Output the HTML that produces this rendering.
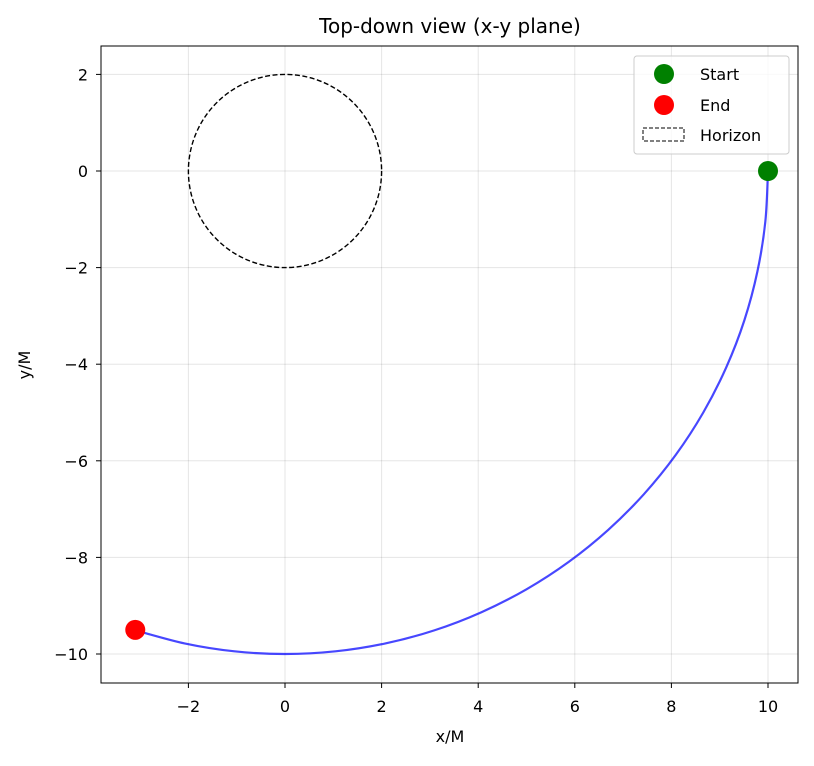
<!DOCTYPE html>
<html><head><meta charset="utf-8"><style>
body{margin:0;background:#fff;}
svg text{font-family:"DejaVu Sans","Liberation Sans",sans-serif;fill:#000;}
</style></head><body>
<svg id="chart" width="814" height="761" viewBox="0 0 814 761" xmlns="http://www.w3.org/2000/svg">
<rect width="814" height="761" fill="#fff"/>
<g id="grid"></g>
<g id="plot"></g>
<rect x="101" y="46" width="697" height="637" fill="none" stroke="#000" stroke-width="1"/>
<g id="ticks"></g>
<text x="450" y="33" font-size="20" text-anchor="middle">Top-down view (x-y plane)</text>
<text x="450" y="742" font-size="16" text-anchor="middle">x/M</text>
<text x="30" y="365" font-size="16" text-anchor="middle" transform="rotate(-90 30 365)">y/M</text>
<g>
<rect x="634" y="56" width="155" height="98" rx="3" fill="#fff" fill-opacity="0.8" stroke="#ccc"/>
<circle cx="664" cy="74" r="10" fill="green"/>
<text x="700" y="80" font-size="16">Start</text>
<circle cx="664" cy="105" r="10" fill="red"/>
<text x="700" y="111" font-size="16">End</text>
<rect x="643" y="128" width="41" height="13" fill="none" stroke="#000" stroke-dasharray="4,2"/>
<text x="700" y="141" font-size="16">Horizon</text>
</g>
</svg>
<script>
const trajX=[10,9.945,9.781,9.511,9.135,8.660,8.090,7.431,6.691,5.878,5.000,4.067,3.090,2.079,1.045,0,-1.045,-2.079,-3.090];
const trajY=[0,-1.045,-2.079,-3.090,-4.067,-5.000,-5.878,-6.691,-7.431,-8.090,-8.660,-9.135,-9.511,-9.781,-9.945,-10,-9.945,-9.781,-9.511];
const startPt=[10,0];
const endPt=[-3.1,-9.5];
const horizonR=2;
const xTicks=[-2,0,2,4,6,8,10];
const yTicks=[2,0,-2,-4,-6,-8,-10];
const X0=285,Y0=171,S=48.3;
function sx(v){return X0+v*S;}
function sy(v){return Y0-v*S;}
const NS="http://www.w3.org/2000/svg";
function mk(tag,attrs,parent){const e=document.createElementNS(NS,tag);for(const k in attrs)e.setAttribute(k,attrs[k]);document.getElementById(parent).appendChild(e);return e;}
xTicks.forEach(t=>{
  const g=mk('line',{x1:sx(t),x2:sx(t),y1:46,y2:683,stroke:'#000','stroke-opacity':0.1},'grid');
  
  
  const tk=mk('line',{x1:sx(t),x2:sx(t),y1:683,y2:688,stroke:'#000'},'ticks');
  
  
  const tx=mk('text',{x:sx(t),y:712,'font-size':16,'text-anchor':'middle'},'ticks');
  tx.textContent=(t<0?'\u2212'+(-t):t);
  
  
});
yTicks.forEach(t=>{
  const g=mk('line',{x1:101,x2:798,y1:sy(t),y2:sy(t),stroke:'#000','stroke-opacity':0.1},'grid');
  
  
  const tk=mk('line',{x1:96,x2:101,y1:sy(t),y2:sy(t),stroke:'#000'},'ticks');
  
  
  const tx=mk('text',{x:88,y:sy(t)+6,'font-size':16,'text-anchor':'end'},'ticks');
  tx.textContent=(t<0?'\u2212'+(-t):t);
  
  
});
const hz=mk('circle',{cx:sx(0),cy:sy(0),r:horizonR*S,fill:'none',stroke:'#000','stroke-width':1.4,'stroke-dasharray':'5,2.5'},'plot');


const P=trajX.map((x,i)=>[sx(x),sy(trajY[i])]);
let d='M'+P[0][0]+','+P[0][1];
for(let i=0;i<P.length-1;i++){
  const p0=P[Math.max(i-1,0)],p1=P[i],p2=P[i+1],p3=P[Math.min(i+2,P.length-1)];
  const c1=[p1[0]+(p2[0]-p0[0])/6,p1[1]+(p2[1]-p0[1])/6];
  const c2=[p2[0]-(p3[0]-p1[0])/6,p2[1]-(p3[1]-p1[1])/6];
  d+=' C'+c1[0]+','+c1[1]+' '+c2[0]+','+c2[1]+' '+p2[0]+','+p2[1];
}
const pl=mk('path',{d:d,fill:'none',stroke:'#0000ff','stroke-opacity':0.72,'stroke-width':2.2},'plot');


const s=mk('circle',{cx:sx(startPt[0]),cy:sy(startPt[1]),r:10,fill:'green'},'plot');


const e=mk('circle',{cx:sx(endPt[0]),cy:sy(endPt[1]),r:10,fill:'red'},'plot');


</script>
</body></html>
